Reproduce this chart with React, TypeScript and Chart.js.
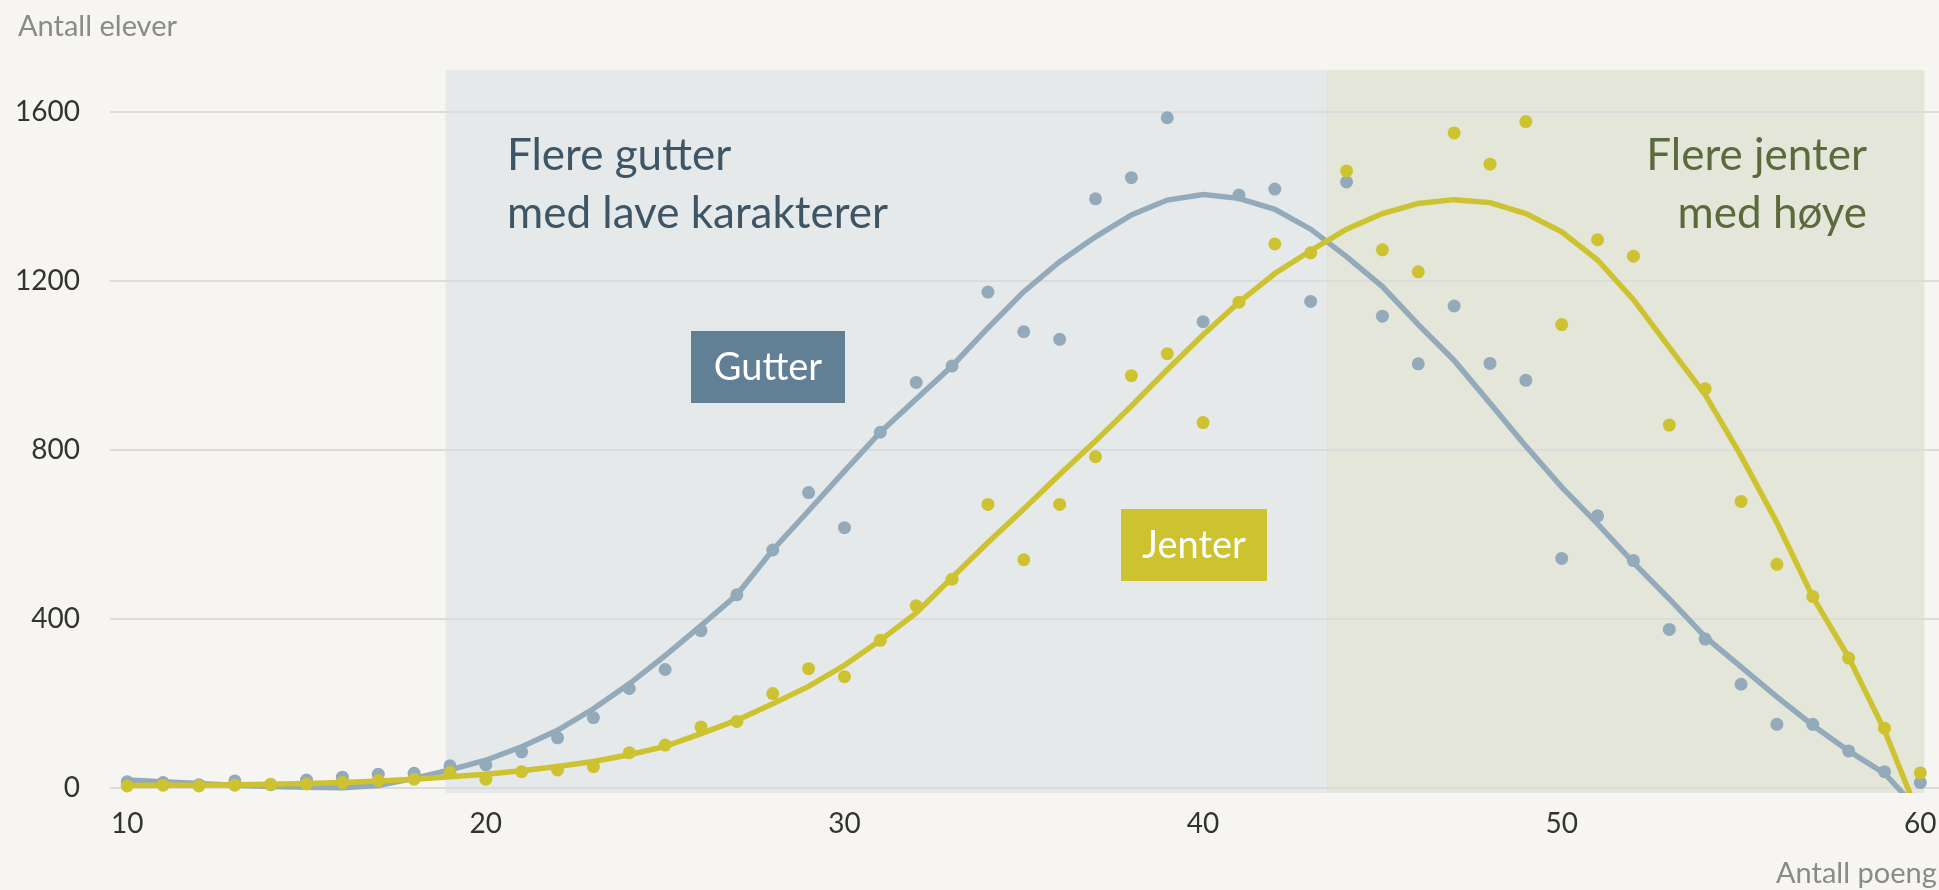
import React, { useEffect, useRef } from "react";
import { Chart, registerables } from "chart.js";

Chart.register(...registerables);

// Antall poeng (x)
const poeng = [
  10, 11, 12, 13, 14, 15, 16, 17, 18, 19, 20, 21, 22, 23, 24, 25, 26, 27, 28, 29, 30,
  31, 32, 33, 34, 35, 36, 37, 38, 39, 40, 41, 42, 43, 44, 45, 46, 47, 48, 49, 50,
  51, 52, 53, 54, 55, 56, 57, 58, 59, 60,
];

// Antall elever – observed values
const gutterDots = [
  14, 12, 7, 16, 7, 18, 25, 32, 34, 52, 54, 85, 118, 166, 235, 280, 372, 457, 563, 699, 616,
  842, 960, 999, 1174, 1080, 1062, 1395, 1445, 1587, 1104, 1404, 1418, 1152, 1435, 1117, 1004, 1141, 1005, 965, 543,
  644, 538, 375, 352, 245, 150, 150, 87, 38, 12,
];
const jenterDots = [
  4, 6, 4, 6, 8, 9, 12, 17, 20, 36, 20, 38, 42, 50, 83, 101, 144, 157, 223, 282, 263,
  349, 431, 494, 671, 540, 671, 784, 976, 1028, 865, 1150, 1288, 1267, 1461, 1274, 1222, 1551, 1477, 1578, 1097,
  1298, 1259, 859, 945, 678, 529, 453, 307, 141, 35,
];

// Trend curves
const gutterTrend = [
  18, 14, 10, 6, 3, 1, 0, 5, 22, 42, 65, 97, 136, 187, 246, 313, 384, 457, 563, 656, 750,
  842, 921, 999, 1089, 1175, 1246, 1305, 1357, 1392, 1405, 1396, 1370, 1323, 1258, 1187, 1097, 1012, 911, 809, 712,
  625, 533, 447, 357, 286, 215, 148, 87, 34, -58,
];
const jenterTrend = [
  5, 6, 6, 7, 8, 10, 12, 16, 20, 26, 32, 40, 50, 62, 78, 98, 128, 160, 199, 240, 290,
  349, 414, 498, 581, 660, 742, 821, 904, 990, 1073, 1150, 1218, 1272, 1323, 1360, 1384, 1393, 1386, 1360, 1317,
  1250, 1156, 1043, 931, 786, 628, 452, 309, 136, -75,
];

const yTicks = [0, 400, 800, 1200, 1600];
const xTicks = [10, 20, 30, 40, 50, 60];

// Shaded zones (x range in poeng, top in elever)
const zoneEdges = [18.88, 43.45, 60.11];
const zoneTop = 1700;

const BG = "#f6f5f1";
const GUTTER = "#93aabb";
const JENTER = "#cdc22f";
const FONT = "Lato, 'Open Sans', sans-serif";

const decorPlugin = {
  id: "decor",
  beforeDraw(chart: any) {
    const { ctx, chartArea, scales } = chart;
    const x = scales.x;
    const y = scales.y;
    ctx.save();
    ctx.fillStyle = BG;
    ctx.fillRect(0, 0, chart.width, chart.height);
    const top = y.getPixelForValue(zoneTop);
    const x1 = x.getPixelForValue(zoneEdges[0]);
    const x2 = x.getPixelForValue(zoneEdges[1]);
    const x3 = x.getPixelForValue(zoneEdges[2]);
    ctx.fillStyle = "#e6e9ea";
    ctx.fillRect(x1, top, x2 - x1, chartArea.bottom - top);
    ctx.fillStyle = "#e4e6d9";
    ctx.fillRect(x2, top, x3 - x2, chartArea.bottom - top);
    ctx.strokeStyle = "#dde0d8";
    ctx.lineWidth = 1;
    ctx.beginPath();
    ctx.moveTo(x2 + 0.5, top);
    ctx.lineTo(x2 + 0.5, chartArea.bottom);
    ctx.stroke();
    ctx.restore();
  },
  afterDraw(chart: any) {
    const { ctx } = chart;
    ctx.save();
    // axis titles
    ctx.fillStyle = "#8a8a8a";
    ctx.font = `29px ${FONT}`;
    ctx.textBaseline = "alphabetic";
    ctx.textAlign = "left";
    ctx.fillText("Antall elever", 18, 36);
    ctx.fillText("Antall poeng", 1776, 883);

    // zone annotations
    ctx.font = `44px ${FONT}`;
    ctx.fillStyle = "#3e5566";
    ctx.textAlign = "left";
    ctx.fillText("Flere gutter", 507, 170);
    ctx.fillText("med lave karakterer", 507, 228);
    ctx.fillStyle = "#5b6a3c";
    ctx.textAlign = "right";
    ctx.fillText("Flere jenter", 1867, 170);
    ctx.fillText("med høye", 1867, 228);

    // series labels
    ctx.fillStyle = "#617f95";
    ctx.fillRect(691, 331, 154, 72);
    ctx.fillStyle = JENTER;
    ctx.fillRect(1121, 509, 146, 72);
    ctx.fillStyle = "#ffffff";
    ctx.font = `38px ${FONT}`;
    ctx.textAlign = "center";
    ctx.textBaseline = "middle";
    ctx.fillText("Gutter", 768, 368);
    ctx.fillText("Jenter", 1194, 546);
    ctx.restore();
  },
};

export default function App() {
  const ref = useRef<HTMLCanvasElement | null>(null);

  useEffect(() => {
    const canvas = ref.current;
    if (!canvas) return;
    document.body.style.margin = "0";
    document.body.style.background = BG;
    const toXY = (vals: number[]) => poeng.map((p, i) => ({ x: p, y: vals[i] }));
    const chart = new Chart(canvas, {
      type: "scatter",
      data: {
        datasets: [
          {
            label: "Jenter",
            data: toXY(jenterDots),
            backgroundColor: JENTER,
            borderColor: JENTER,
            pointRadius: 6.5,
            borderWidth: 0,
            order: 0,
          },
          {
            label: "Jenter trend",
            data: toXY(jenterTrend),
            showLine: true,
            borderColor: JENTER,
            borderWidth: 5.5,
            pointRadius: 0,
            tension: 0,
            order: 1,
          } as any,
          {
            label: "Gutter",
            data: toXY(gutterDots),
            backgroundColor: GUTTER,
            borderColor: GUTTER,
            pointRadius: 6.5,
            borderWidth: 0,
            order: 2,
          },
          {
            label: "Gutter trend",
            data: toXY(gutterTrend),
            showLine: true,
            borderColor: GUTTER,
            borderWidth: 5.5,
            pointRadius: 0,
            tension: 0,
            order: 3,
          } as any,
        ],
      },
      options: {
        animation: false,
        responsive: false,
        maintainAspectRatio: false,
        layout: { autoPadding: false, padding: { top: 61.6, right: 0, bottom: 0, left: 0 } },
        plugins: {
          legend: { display: false },
          tooltip: { enabled: false },
        },
        scales: {
          x: {
            type: "linear",
            min: 9.52,
            max: 60.52,
            grid: { display: false, drawTicks: false },
            border: { display: false },
            afterBuildTicks: (s: any) => {
              s.ticks = xTicks.map((v) => ({ value: v }));
            },
            afterFit: (s: any) => {
              s.height = 97;
              s.paddingLeft = 0;
              s.paddingRight = 0;
            },
            ticks: {
              padding: 14,
              color: "#333333",
              font: { family: FONT, size: 28 },
              callback: (v: any) => String(v),
            },
          },
          y: {
            type: "linear",
            min: -12.6,
            max: 1720,
            grid: { color: "#dcdcdc", lineWidth: 2, drawTicks: false },
            border: { display: false },
            afterBuildTicks: (s: any) => {
              s.ticks = yTicks.map((v) => ({ value: v }));
            },
            afterFit: (s: any) => {
              s.width = 110;
              s.paddingTop = 0;
              s.paddingBottom = 0;
            },
            ticks: {
              padding: 30,
              color: "#333333",
              font: { family: FONT, size: 28 },
              callback: (v: any) => String(v),
            },
          },
        },
      } as any,
      plugins: [decorPlugin],
    });
    return () => chart.destroy();
  }, []);

  return (
    <div style={{ position: "fixed", left: 0, top: 0, width: 1939, height: 890, background: BG }}>
      <canvas ref={ref} width={1939} height={890} style={{ width: 1939, height: 890, display: "block" }} />
    </div>
  );
}
